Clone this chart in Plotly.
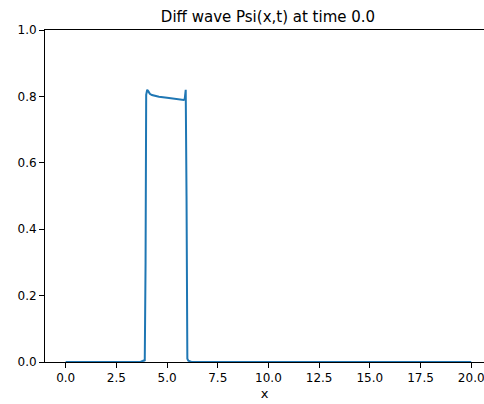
import plotly.graph_objects as go

x_vals = [0.0, 3.55, 3.7, 3.8, 3.86, 3.9, 3.94, 3.97, 4.02, 4.08, 4.15, 4.25, 4.4, 4.6, 5.0, 5.4, 5.7, 5.82, 5.87, 5.9, 5.92, 5.96, 6.0, 6.05, 6.1, 6.2, 6.4, 20.0]
psi_vals = [0.0, 0.0, 0.001, 0.003, 0.005, 0.003, 0.3, 0.805, 0.82, 0.815, 0.808, 0.804, 0.801, 0.799, 0.796, 0.793, 0.79, 0.789, 0.792, 0.81, 0.82, 0.5, 0.01, 0.004, 0.002, 0.0, 0.0, 0.0]

x_ticks = [0.0, 2.5, 5.0, 7.5, 10.0, 12.5, 15.0, 17.5, 20.0]
x_tick_text = ["0.0", "2.5", "5.0", "7.5", "10.0", "12.5", "15.0", "17.5", "20.0"]
y_ticks = [0.0, 0.2, 0.4, 0.6, 0.8, 1.0]
y_tick_text = ["0.0", "0.2", "0.4", "0.6", "0.8", "1.0"]

fig = go.Figure()
fig.add_trace(go.Scatter(x=x_vals, y=psi_vals, mode="lines",
                         line=dict(color="#1f77b4", width=2), showlegend=False))

font = "DejaVu Sans"
fig.update_layout(
    width=484, height=404,
    margin=dict(l=45, r=0, t=30, b=42),
    paper_bgcolor="white", plot_bgcolor="white",
    font=dict(family=font, size=12, color="black"),
    title=dict(text="Diff wave Psi(x,t) at time 0.0", x=268/484, xanchor="center",
               y=1 - 17/404, yanchor="middle", font=dict(family=font, size=15, color="black")),
    xaxis=dict(range=[-1.02, 20.63], tickvals=x_ticks, ticktext=x_tick_text,
               showgrid=False, zeroline=False, showline=True, linecolor="black", linewidth=1,
               mirror=True, ticks="outside", ticklen=5, tickcolor="black",
               ticklabeloverflow="allow",
               title=dict(text="x", font=dict(family=font, size=13), standoff=4)),
    yaxis=dict(range=[0, 1], tickvals=y_ticks, ticktext=y_tick_text,
               showgrid=False, zeroline=False, showline=True, linecolor="black", linewidth=1,
               ticks="outside", ticklen=5, tickcolor="black"),
)
fig.write_html("out.html")
